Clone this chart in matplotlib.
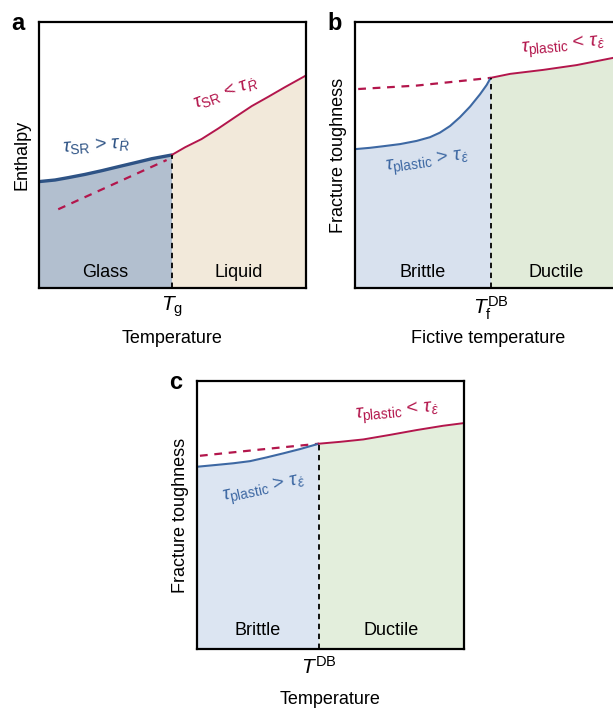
import matplotlib
matplotlib.use("Agg")
import matplotlib.pyplot as plt

plt.rcParams['font.family'] = ['Liberation Sans', 'DejaVu Sans']
plt.rcParams['mathtext.fontset'] = 'custom'
plt.rcParams['mathtext.rm'] = 'Liberation Sans'
plt.rcParams['mathtext.it'] = 'Liberation Sans:italic'
plt.rcParams['mathtext.bf'] = 'Liberation Sans:bold'

# panel a: enthalpy vs temperature
a_glass_x = [0.0, 0.06, 0.11, 0.172, 0.235, 0.297, 0.36, 0.422, 0.497]
a_glass_y = [0.400, 0.406, 0.415, 0.427, 0.441, 0.456, 0.471, 0.486, 0.500]
a_liquid_x = [0.497, 0.547, 0.609, 0.672, 0.734, 0.797, 0.859, 0.921, 1.0]
a_liquid_y = [0.500, 0.529, 0.560, 0.600, 0.642, 0.684, 0.719, 0.755, 0.799]
a_extrap_x = [0.072, 0.478]
a_extrap_y = [0.296, 0.481]
a_tg = 0.497

# panel b: fracture toughness vs fictive temperature
b_brittle_x = [0.0, 0.056, 0.106, 0.169, 0.231, 0.281, 0.318, 0.356, 0.393,
               0.431, 0.468, 0.493, 0.508]
b_brittle_y = [0.522, 0.527, 0.533, 0.541, 0.553, 0.567, 0.584, 0.609, 0.642,
               0.682, 0.728, 0.763, 0.790]
b_ductile_x = [0.508, 0.581, 0.705, 0.830, 0.966, 1.0]
b_ductile_y = [0.790, 0.805, 0.820, 0.838, 0.865, 0.875]
b_extrap_x = [0.012, 0.231, 0.356, 0.508]
b_extrap_y = [0.748, 0.761, 0.774, 0.790]
b_tdb = 0.508

# panel c: fracture toughness vs temperature
c_brittle_x = [0.0, 0.074, 0.136, 0.199, 0.261, 0.323, 0.386, 0.456]
c_brittle_y = [0.680, 0.687, 0.693, 0.701, 0.715, 0.730, 0.746, 0.766]
c_ductile_x = [0.456, 0.536, 0.623, 0.723, 0.823, 0.922, 1.0]
c_ductile_y = [0.766, 0.773, 0.782, 0.799, 0.817, 0.833, 0.843]
c_extrap_x = [0.011, 0.224, 0.456]
c_extrap_y = [0.721, 0.743, 0.766]
c_tdb = 0.456

RED = "#b3164c"

W, H = 613, 709
fig = plt.figure(figsize=(W / 100, H / 100), dpi=100)


def make_axes(left, top, w=267, h=266):
    return fig.add_axes([left / W, (H - top - h) / H, w / W, h / H])


def setup(ax, letter, xt, xtlabel, xlabel, ylabel, label_dy):
    ax.set_xlim(0, 1)
    ax.set_ylim(0, 1)
    ax.set_yticks([])
    ax.set_xticks([xt])
    ax.set_xticklabels([xtlabel], fontsize=15)
    ax.tick_params(axis="x", length=0, pad=5)
    for s in ax.spines.values():
        s.set_linewidth(1.6)
    ax.text(0.5, label_dy, xlabel, transform=ax.transAxes, ha="center",
            va="center", fontsize=13)
    ax.set_ylabel(ylabel, fontsize=13, labelpad=6)
    ax.text(-0.078, 0.996, letter, transform=ax.transAxes, fontsize=17,
            fontweight="bold", ha="center", va="center")


def panel(ax, lo_x, lo_y, hi_x, hi_y, ex_x, ex_y, xb, lo_fill, hi_fill,
          lo_col, lo_lw, lo_txt, hi_txt, lo_name, hi_name, name_y):
    ax.fill_between(lo_x, 0, lo_y, color=lo_fill, lw=0)
    ax.fill_between(hi_x, 0, hi_y, color=hi_fill, lw=0)
    ax.plot(ex_x, ex_y, color=RED, lw=1.6, ls=(0, (3.5, 3)))
    ax.plot(lo_x, lo_y, color=lo_col, lw=lo_lw, solid_capstyle="round",
            solid_joinstyle="round")
    ax.plot(hi_x, hi_y, color=RED, lw=1.4, solid_joinstyle="round")
    ax.plot([xb, xb], [0, lo_y[-1]], color="black", lw=1.3, ls=(0, (3, 2.5)))
    ax.text(*lo_txt[:2], lo_txt[2], color=lo_col, fontsize=14, rotation=lo_txt[3],
            ha="center", va="center", transform=ax.transAxes)
    ax.text(*hi_txt[:2], hi_txt[2], color=RED, fontsize=14, rotation=hi_txt[3],
            ha="center", va="center", transform=ax.transAxes)
    ax.text(xb / 2, name_y, lo_name, ha="center", va="center", fontsize=13)
    ax.text((1 + xb) / 2, name_y, hi_name, ha="center", va="center", fontsize=13)


ax_a = make_axes(39, 22)
panel(ax_a, a_glass_x, a_glass_y, a_liquid_x, a_liquid_y, a_extrap_x, a_extrap_y,
      a_tg, "#b2bfcf", "#f2e9da", "#2e5385", 2.4,
      (0.215, 0.535, r"$\tau_{\mathrm{SR}}$ > $\tau_{\dot{R}}$", 4),
      (0.70, 0.735, r"$\tau_{\mathrm{SR}}$ < $\tau_{\dot{R}}$", 20),
      "Glass", "Liquid", 0.058)
setup(ax_a, "a", a_tg, r"$T_{\mathrm{g}}$", "Temperature", "Enthalpy", -0.19)

ax_b = make_axes(355, 22)
panel(ax_b, b_brittle_x, b_brittle_y, b_ductile_x, b_ductile_y, b_extrap_x, b_extrap_y,
      b_tdb, "#d8e1ee", "#e1ebd9", "#3d68a3", 1.5,
      (0.27, 0.47, r"$\tau_{\mathrm{plastic}}$ > $\tau_{\dot{\varepsilon}}$", 8),
      (0.78, 0.905, r"$\tau_{\mathrm{plastic}}$ < $\tau_{\dot{\varepsilon}}$", 5),
      "Brittle", "Ductile", 0.058)
setup(ax_b, "b", b_tdb, r"$T_{\mathrm{f}}^{\mathrm{DB}}$", "Fictive temperature",
      "Fracture toughness", -0.19)

ax_c = make_axes(197, 381, h=268)
panel(ax_c, c_brittle_x, c_brittle_y, c_ductile_x, c_ductile_y, c_extrap_x, c_extrap_y,
      c_tdb, "#dce5f2", "#e3eedc", "#3d68a3", 1.5,
      (0.25, 0.595, r"$\tau_{\mathrm{plastic}}$ > $\tau_{\dot{\varepsilon}}$", 12),
      (0.75, 0.88, r"$\tau_{\mathrm{plastic}}$ < $\tau_{\dot{\varepsilon}}$", 5),
      "Brittle", "Ductile", 0.07)
setup(ax_c, "c", c_tdb, r"$T^{\mathrm{DB}}$", "Temperature", "Fracture toughness", -0.19)

fig.savefig("out.png", dpi=100)
